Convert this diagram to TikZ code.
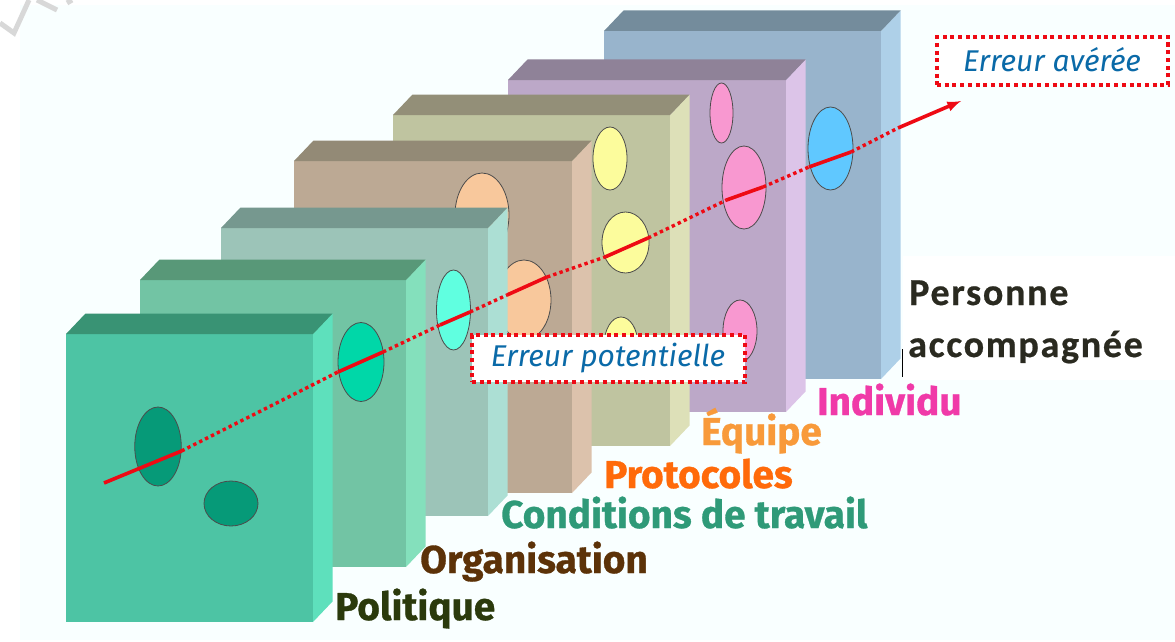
\documentclass[tikz,border=0pt]{standalone}
\usepackage{fontspec}
\setmainfont{Fira Sans}[BoldFeatures={FakeBold=0.8}]
\newfontfamily\persfont{Carlito}[LetterSpace=4.5,BoldFeatures={FakeBold=0.6}]
\usepackage{tikz}
\usetikzlibrary{arrows}
\usetikzlibrary{shapes.geometric}

\definecolor{errblue}{HTML}{0A6AA8}
\definecolor{errred}{HTML}{EE0A14}
\definecolor{pale}{HTML}{F9FFFF}
\definecolor{markgray}{HTML}{D8D8D8}

\definecolor{polf}{HTML}{4DC4A4}
\definecolor{pols}{HTML}{5EE0BC}
\definecolor{polt}{HTML}{399374}
\definecolor{polh}{HTML}{069A78}
\definecolor{polname}{HTML}{2B3A0C}
\definecolor{orgf}{HTML}{72C4A4}
\definecolor{orgs}{HTML}{84E0BC}
\definecolor{orgt}{HTML}{589878}
\definecolor{orgh}{HTML}{00D7A8}
\definecolor{orgname}{HTML}{5C3208}
\definecolor{conf}{HTML}{9CC4B8}
\definecolor{cons}{HTML}{ACDFD4}
\definecolor{cont}{HTML}{76988F}
\definecolor{conh}{HTML}{60FFE0}
\definecolor{conname}{HTML}{2F9A78}
\definecolor{prof}{HTML}{BCA994}
\definecolor{pros}{HTML}{DCC2AC}
\definecolor{prot}{HTML}{938A76}
\definecolor{proh}{HTML}{F8C89C}
\definecolor{proname}{HTML}{FF6A0A}
\definecolor{equf}{HTML}{BFC4A0}
\definecolor{equs}{HTML}{DDE0B8}
\definecolor{equt}{HTML}{938F78}
\definecolor{equh}{HTML}{FCFC9C}
\definecolor{equname}{HTML}{F89A3A}
\definecolor{indf}{HTML}{BCA8C8}
\definecolor{inds}{HTML}{DCC4E8}
\definecolor{indt}{HTML}{8F8298}
\definecolor{indh}{HTML}{F898D0}
\definecolor{indname}{HTML}{F03AA8}
\definecolor{perf}{HTML}{98B4CC}
\definecolor{pers}{HTML}{AED0E8}
\definecolor{pert}{HTML}{748C9C}
\definecolor{perh}{HTML}{60C8FF}
\definecolor{pername}{HTML}{2A2A20}

\tikzset{
  hole/.style={ellipse,draw=black!70,line width=.8pt,inner sep=0pt},
  redline/.style={errred,line width=3.6pt},
  reddots/.style={errred,line width=3.4pt,dash pattern=on 3.4pt off 3.2pt},
  errbox/.style={draw=errred,fill=white,line width=4.2pt,dash pattern=on 4pt off 3.7pt,rectangle},
  errtext/.style={text=errblue,font=\itshape\fontsize{30}{30}\selectfont},
  lab/.style={anchor=base west,inner sep=0pt,font=\bfseries\fontsize{38.8}{38.8}\selectfont},
  perslab/.style={anchor=base west,inner sep=0pt,text=pername,font=\persfont\bfseries\fontsize{38}{38}\selectfont}
}

% one slab: x0, x1, top, bottom, then prefix of its colours
\newcommand{\slab}[5]{
  \fill[#5f] (#1,#3) rectangle (#2,#4);
  \fill[#5s] (#2,#3) -- (#2+19.5,#3-20.5) -- (#2+19.5,#4-20.5) -- (#2,#4) -- cycle;
  \fill[#5t] (#1,#3) -- (#1+19.5,#3-20.5) -- (#2+19.5,#3-20.5) -- (#2,#3) -- cycle;
}

\begin{document}
\begin{tikzpicture}[x=1pt,y=-1pt]
  \useasboundingbox (0,0) rectangle (1175,642);
  \fill[pale] (20,5) rectangle (1175,640);
  \fill[white] (903,256) rectangle (1175,380);
  \draw[markgray,line width=5pt] (0,23) -- (14,33) -- (29,0);
  \draw[markgray,line width=5pt] (37,0) -- (57,10);
  \draw[markgray,line width=5pt] (67,3) -- (72,0);

  % slabs, back to front
  \slab{604}{881}{31}{379}{per}
  \node[hole,fill=perh,minimum width=45pt,minimum height=83pt] (per1) at (830.5,148.5) {};

  \slab{508}{786}{80}{412}{ind}
  \node[hole,fill=indh,minimum width=23pt,minimum height=60pt] (ind1) at (721.5,113) {};
  \node[hole,fill=indh,minimum width=44pt,minimum height=83pt] (ind2) at (744,187.5) {};
  \node[hole,fill=indh,minimum width=34pt,minimum height=62pt] (ind3) at (740,331) {};

  \slab{393}{670}{115}{446}{equ}
  \node[hole,fill=equh,minimum width=34pt,minimum height=63pt] (equ1) at (610,158.5) {};
  \node[hole,fill=equh,minimum width=47pt,minimum height=61pt] (equ2) at (625.5,242.5) {};
  \node[hole,fill=equh,minimum width=34pt,minimum height=56pt] (equ3) at (621,345) {};

  \slab{294}{572}{161}{493}{pro}
  \node[hole,fill=proh,minimum width=54pt,minimum height=84pt] (pro1) at (482,215) {};
  \node[hole,fill=proh,minimum width=54pt,minimum height=80pt] (pro2) at (524,300) {};

  \slab{221}{488}{228}{516}{con}
  \node[hole,fill=conh,minimum width=34pt,minimum height=80pt] (con1) at (453.5,310) {};

  \slab{140}{406}{280}{567}{org}
  \node[hole,fill=orgh,minimum width=46pt,minimum height=79pt] (org1) at (361,362) {};

  \slab{66}{313}{334}{622}{pol}
  \node[hole,fill=polh,minimum width=46.5pt,minimum height=79pt] (pol1) at (158,446.5) {};
  \node[hole,fill=polh,minimum width=54pt,minimum height=45pt] (pol2) at (231,503.5) {};

  % the path of the error
  \coordinate (r0) at (104,483);
  \coordinate (r1) at (181.5,451);
  \coordinate (r2) at (338,372);
  \coordinate (r3) at (383,352);
  \coordinate (r4) at (440,325);
  \coordinate (r5) at (470,312);
  \coordinate (r6) at (507,295);
  \coordinate (r7) at (547,277);
  \coordinate (r8) at (605,257);
  \coordinate (r9) at (648,238);
  \coordinate (r10) at (726.5,200);
  \coordinate (r11) at (763,187);
  \coordinate (r12) at (809,167);
  \coordinate (r13) at (851,152);
  \coordinate (r14) at (898,128);
  \coordinate (r15) at (961,101);

  \draw[redline] (r0) -- (r1);
  \draw[reddots] (r1) -- (r2);
  \draw[redline] (r2) -- (r3);
  \draw[reddots] (r3) -- (r4);
  \draw[redline] (r4) -- (r5);
  \draw[reddots] (r5) -- (r6);
  \draw[redline] (r6) -- (r7);
  \draw[reddots] (r7) -- (r8);
  \draw[redline] (r8) -- (r9);
  \draw[reddots] (r9) -- (r10);
  \draw[redline] (r10) -- (r11);
  \draw[reddots] (r11) -- (r12);
  \draw[redline] (r12) -- (r13);
  \draw[reddots] (r13) -- (r14);
  \draw[redline,-latex] (r14) -- (r15);

  \node[errbox,minimum width=231pt,minimum height=48pt] (avere) at (1052.5,61) {};
  \node[errtext] (averetxt) at (1052,60) {Erreur avérée};
  \node[errbox,minimum width=273pt,minimum height=47pt] (poten) at (608.5,358.5) {};
  \node[errtext] (potentxt) at (608,358) {Erreur potentielle};

  \node[lab,text=polname] (politique) at (335,620) {Politique};
  \node[lab,text=orgname] (organisation) at (420,573) {Organisation};
  \node[lab,text=conname] (conditions) at (501,528) {Conditions de travail};
  \node[lab,text=proname] (protocoles) at (604,488) {Protocoles};
  \node[lab,text=equname] (equipe) at (701,445) {Équipe};
  \node[lab,text=indname] (individu) at (817,415) {Individu};
  \node[perslab] (personne) at (909,305) {Personne};
  \node[perslab] (accomp) at (908,357) {accompagnée};

  \coordinate (tick1) at (902,349);
  \coordinate (tick2) at (902,377);
  \draw[black,line width=.8pt] (tick1) -- (tick2);
\end{tikzpicture}
\end{document}
